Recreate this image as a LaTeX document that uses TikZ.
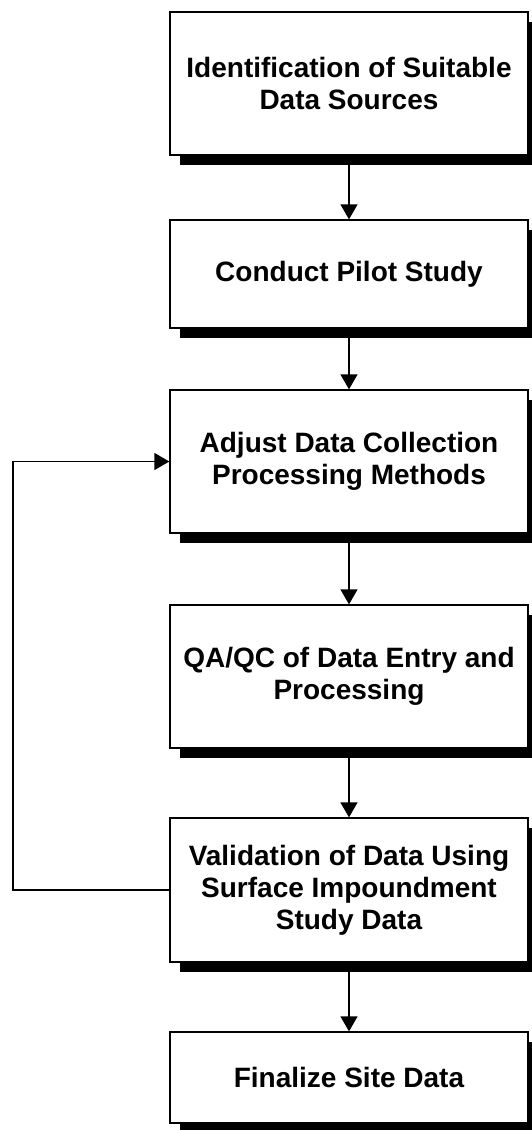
\documentclass[tikz,border=0pt]{standalone}
\usepackage{fontspec}
\setmainfont{Liberation Sans}
\usetikzlibrary{arrows.meta,shadows,positioning}

\begin{document}
\begin{tikzpicture}[
    x=0.5pt, y=-0.5pt,
    stepbox/.style={rectangle, draw, line width=0.65pt, fill=white,
        minimum width=179pt, inner sep=0pt, align=center,
        font=\bfseries\fontsize{14}{16}\selectfont,
        drop shadow={shadow xshift=5pt, shadow yshift=-5pt, fill=black, opacity=1}},
    arrow/.style={-{Triangle[length=7.5pt, width=8.5pt]}, line width=0.65pt}
]
    \useasboundingbox (0,0) rectangle (531,1130);

    % Steps
    \node[stepbox, minimum height=71.5pt] (ident) at (349, 83.5)
        {Identification of Suitable\\Data Sources};
    \node[stepbox, minimum height=54pt] (pilot) at (349, 274)
        {Conduct Pilot Study};
    \node[stepbox, minimum height=71.5pt] (adjust) at (349, 461.5)
        {Adjust Data Collection\\Processing Methods};
    \node[stepbox, minimum height=71.5pt] (qaqc) at (349, 676.5)
        {QA/QC of Data Entry and\\Processing};
    \node[stepbox, minimum height=72pt] (valid) at (349, 890)
        {Validation of Data Using\\Surface Impoundment\\Study Data};
    \node[stepbox, minimum height=45.5pt] (final) at (349, 1077.5)
        {Finalize Site Data};

    % Connections
    \foreach \a/\b in {ident/pilot, pilot/adjust, adjust/qaqc, qaqc/valid, valid/final} {
        \draw[arrow] (\a.south) -- (\b.north);
    }

    % Feedback loop
    \coordinate (loop) at (13, 676.5);
    \draw[arrow] (valid.west) -| (loop) |- (adjust.west);
\end{tikzpicture}
\end{document}
